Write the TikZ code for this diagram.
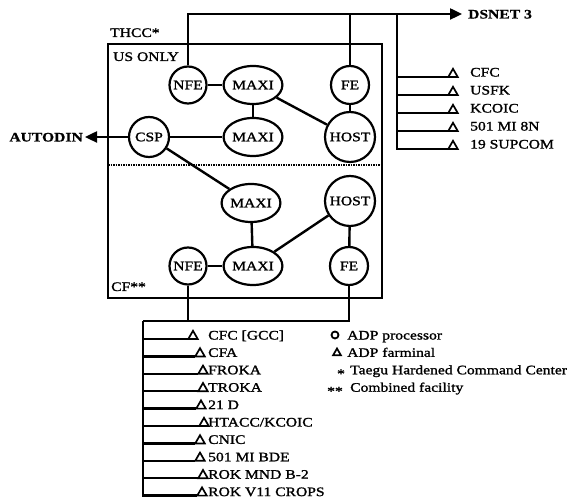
\documentclass[tikz,border=0pt]{standalone}
\usepackage{fontspec}
\usetikzlibrary{shapes.geometric,arrows.meta}
\newfontfamily\rfont{Liberation Serif}[FakeStretch=1.2,FakeBold=1.4]
\newfontfamily\bfont{Liberation Serif}[FakeStretch=1.2,FakeBold=0.6]
\begin{document}
\begin{tikzpicture}[x=1pt,y=-1pt,
  every node/.style={font=\rfont\fontsize{13}{14}\selectfont},
  proc/.style={circle,draw,line width=2.2pt,inner sep=0pt},
  maxi/.style={ellipse,draw,line width=2.2pt,minimum width=58pt,minimum height=38pt,inner sep=0pt},
  conn/.style={line width=2.4pt},
  term/.style={regular polygon,regular polygon sides=3,draw,line width=1.7pt,minimum size=11pt,inner sep=0pt,outer sep=0pt},
  lbl/.style={anchor=base west,inner sep=0pt},
  arr/.style={-{Triangle[length=12pt,width=11pt]}}
]
\useasboundingbox (0,0) rectangle (579,502);

% frame
\draw[line width=2.6pt] (108,44) rectangle (382,298);
\draw[line width=2.2pt,dash pattern=on 1.5pt off 1pt] (108,165) -- (382,165);
\node[lbl] (thcc) at (110,37) {THCC*};
\node[lbl] (us) at (113,61) {US ONLY};
\node[lbl] (cf) at (111,291) {CF**};

% processors
\node[proc,minimum size=37pt] (nfeA) at (188,85) {NFE};
\node[maxi] (maxiA) at (253,85) {MAXI};
\node[proc,minimum size=38pt] (feA) at (350,85) {FE};
\node[proc,minimum size=40pt] (csp) at (149,137) {CSP};
\node[maxi] (maxiB) at (253,137) {MAXI};
\node[proc,minimum size=50pt] (hostA) at (350,137) {HOST};
\node[maxi] (maxiC) at (251,203) {MAXI};
\node[proc,minimum size=50pt] (hostB) at (350,201) {HOST};
\node[proc,minimum size=37pt] (nfeB) at (188,266) {NFE};
\node[maxi] (maxiD) at (253,266) {MAXI};
\node[proc,minimum size=38pt] (feB) at (349,266) {FE};

\draw[conn] (nfeA) -- (maxiA);
\draw[conn] (maxiA) -- (maxiB);
\draw[conn] (maxiA) -- (hostA);
\draw[conn] (feA) -- (hostA);
\draw[conn] (csp) -- (maxiB);
\draw[conn] (csp) -- (maxiC);
\draw[conn] (maxiC) -- (maxiD);
\draw[conn] (maxiD) -- (hostB);
\draw[conn] (hostB) -- (feB);
\draw[conn] (nfeB) -- (maxiD);

% AUTODIN
\coordinate (au) at (85,137);
\draw[conn,arr] (csp) -- (au);
\node[anchor=base east,inner sep=0pt,font=\bfont\bfseries\fontsize{13}{14}\selectfont] (autodin) at (83,141.5) {AUTODIN};

% DSNET
\coordinate (ds) at (462,14);
\draw[conn,arr] (nfeA) |- (ds);
\draw[conn] (feA) -- (feA |- ds);
\node[lbl,font=\bfont\bfseries\fontsize{13}{14}\selectfont] (dsnet) at (468,18.5) {DSNET 3};

% right tree
\coordinate (rt) at (397,14);
\node[term] (r1) at (453,74.3) {};
\node[term] (r2) at (453,92.3) {};
\node[term] (r3) at (453,110.3) {};
\node[term] (r4) at (453,128.3) {};
\node[term] (r5) at (453,146.3) {};
\foreach \i in {1,...,5} \draw[conn] (rt) |- (r\i.corner 2);
\node[lbl] (rl1) at (470,76.5) {CFC};
\node[lbl] (rl2) at (470,94.5) {USFK};
\node[lbl] (rl3) at (470,112.5) {KCOIC};
\node[lbl] (rl4) at (470,130.5) {501 MI 8N};
\node[lbl] (rl5) at (470,148.5) {19 SUPCOM};

% bottom tree
\coordinate (lt) at (143,321);
\draw[conn] (nfeB) -- (nfeB |- lt);
\draw[conn] (feB) |- (lt);
\node[term] (b1) at (193,336.3) {};
\node[term] (b2) at (200,353.7) {};
\node[term] (b3) at (203,371.1) {};
\node[term] (b4) at (203,388.5) {};
\node[term] (b5) at (201,405.9) {};
\node[term] (b6) at (204,423.3) {};
\node[term] (b7) at (200,440.7) {};
\node[term] (b8) at (200,458.1) {};
\node[term] (b9) at (203,475.5) {};
\node[term] (b10) at (202,492.9) {};
\foreach \i in {1,...,10} \draw[conn] (lt) |- (b\i.corner 2);
\node[lbl] (bl1) at (208,339.5) {CFC [GCC]};
\node[lbl] (bl2) at (208,356.9) {CFA};
\node[lbl] (bl3) at (208,374.3) {FROKA};
\node[lbl] (bl4) at (208,391.7) {TROKA};
\node[lbl] (bl5) at (208,409.1) {21 D};
\node[lbl] (bl6) at (208,426.5) {HTACC/KCOIC};
\node[lbl] (bl7) at (208,443.9) {CNIC};
\node[lbl] (bl8) at (208,461.3) {501 MI BDE};
\node[lbl] (bl9) at (208,478.7) {ROK MND B-2};
\node[lbl] (bl10) at (208,496.1) {ROK V11 CROPS};

% legend
\node[proc,line width=1.8pt,minimum size=7pt] (lg1) at (335,335) {};
\node[term,minimum size=9pt] (lg2) at (337,353) {};
\node[anchor=base,inner sep=0pt] (lg3) at (341,378) {*};
\node[anchor=base,inner sep=0pt] (lg4) at (335,395.5) {**};
\node[lbl] (lt1) at (347,339.5) {ADP processor};
\node[lbl] (lt2) at (347,356.9) {ADP farminal};
\node[lbl] (lt3) at (350,374.3) {Taegu Hardened Command Center};
\node[lbl] (lt4) at (350,391.7) {Combined facility};
\end{tikzpicture}
\end{document}
